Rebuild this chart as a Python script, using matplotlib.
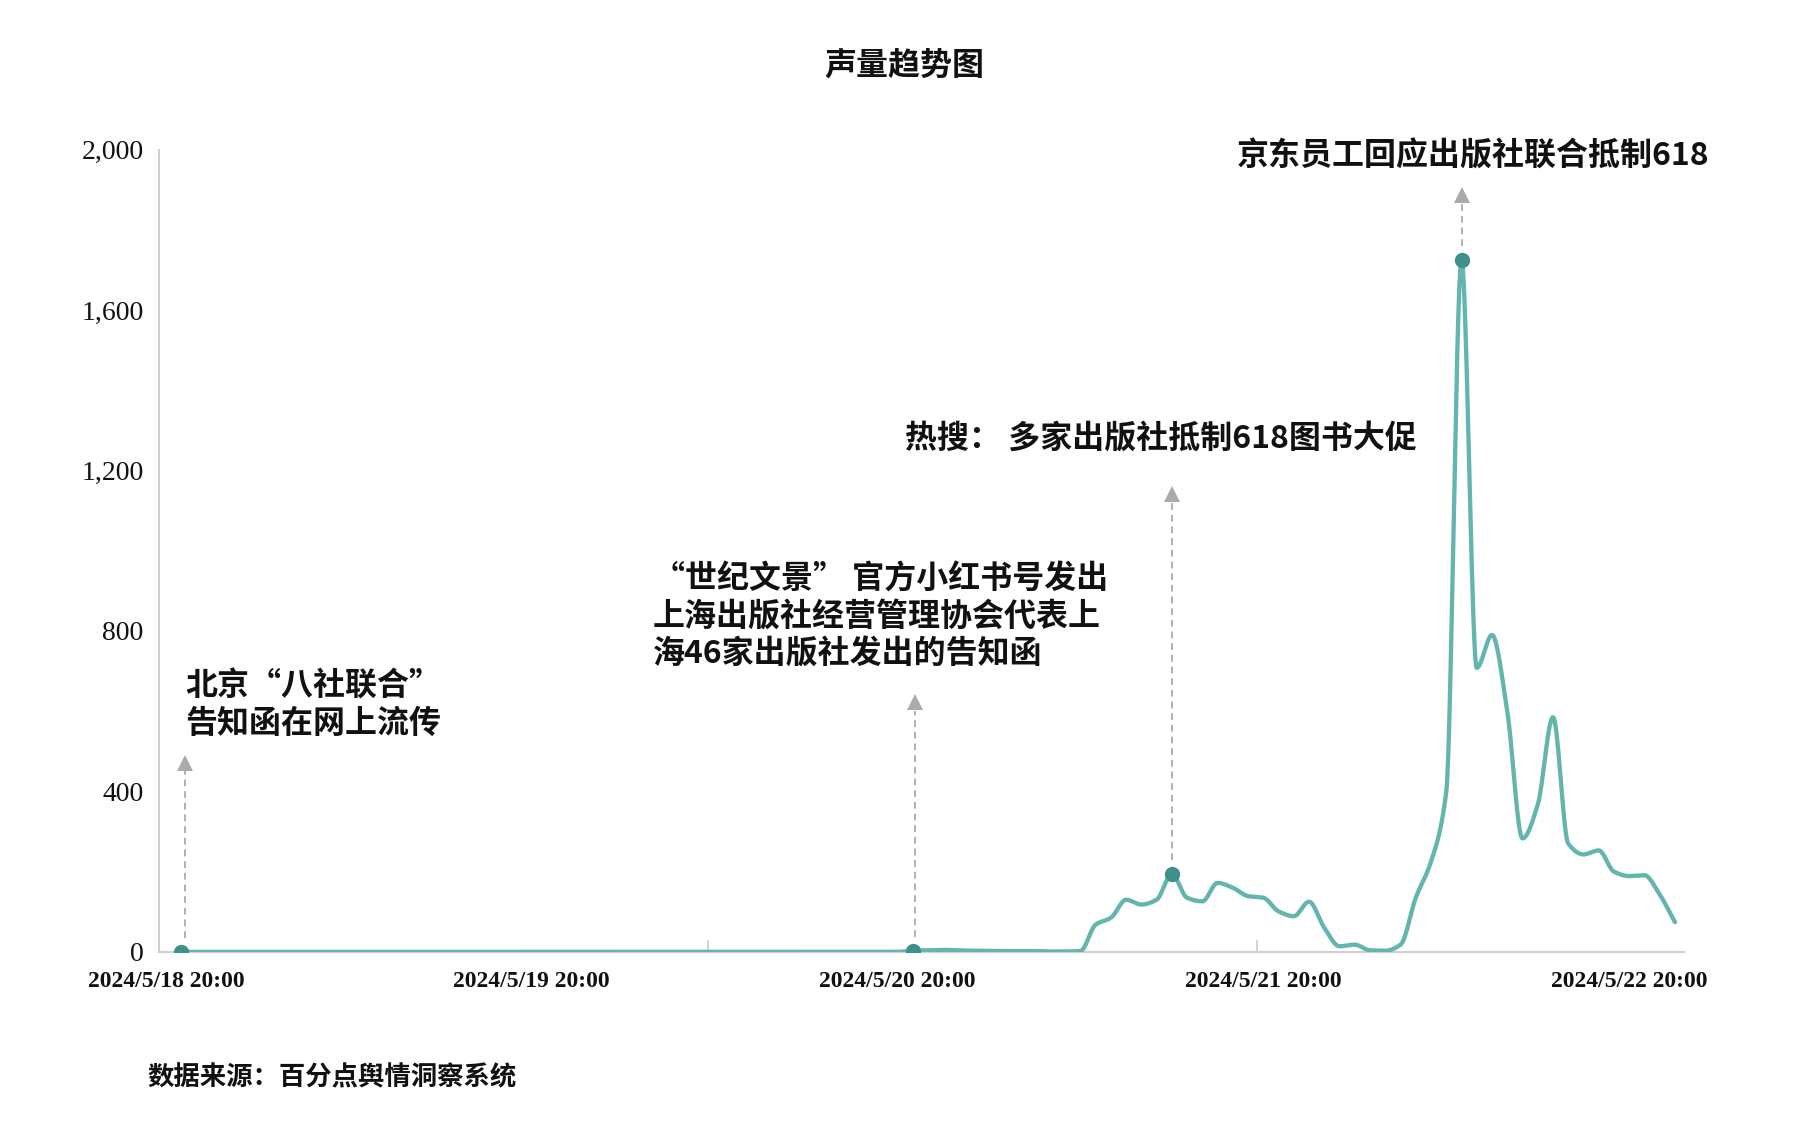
import numpy as np
import matplotlib
matplotlib.use("Agg")
import matplotlib.pyplot as plt
from matplotlib.transforms import ScaledTranslation

plt.rcParams['font.family'] = ['Noto Sans CJK SC', 'DejaVu Sans']

# hourly volume, hour 0 = 2024/5/18 20:00
hours = list(range(99))
volume = [
    0, 0, 0, 0, 0, 0, 0, 0, 0, 0, 0, 0,
    0, 0, 0, 0, 0, 0, 0, 0, 0, 0, 0, 0,
    0, 0, 0, 0, 0, 0, 0, 0, 0, 0, 0, 0,
    0, 0, 0, 0, 0, 0, 0, 0, 0, 0, 0, 0,
    3, 4, 5, 4, 3, 3, 2, 2, 2, 1, 1, 2,
    68, 85, 130, 118, 130, 194, 135, 126, 172, 160, 139, 135,
    101, 89, 125, 60, 14, 18, 4, 3, 18, 135, 225, 400,
    1725, 708, 790, 600, 283, 367, 585, 270, 243, 253, 200, 189,
    191, 143, 74,
]

tick_hours = [0, 24, 48, 72, 96]
tick_labels = ['2024/5/18 20:00', '2024/5/19 20:00', '2024/5/20 20:00',
               '2024/5/21 20:00', '2024/5/22 20:00']
y_ticks = [0, 400, 800, 1200, 1600, 2000]
y_labels = ['0', '400', '800', '1,200', '1,600', '2,000']

event_hours = [0, 48, 65, 84]
event_texts = ['北京“八社联合”\n告知函在网上流传',
               '“世纪文景” 官方小红书号发出\n上海出版社经营管理协会代表上\n海46家出版社发出的告知函',
               '热搜： 多家出版社抵制618图书大促',
               '京东员工回应出版社联合抵制618']
# arrow tips (value units) and text anchor (figure pixels)
arrow_tips = [490, 640, 1160, 1905]
arrow_shift = [0.3, 0.15, 0.0, 0.05]
text_pos = [(185, 705), (653, 617), (905, 439), (1237, 157)]


def pchip(x, y, xs):
    x = np.asarray(x, float)
    y = np.asarray(y, float)
    h = np.diff(x)
    d = np.diff(y) / h
    m = np.zeros_like(y)
    for k in range(1, len(y) - 1):
        if d[k - 1] * d[k] > 0:
            w1 = 2 * h[k] + h[k - 1]
            w2 = h[k] + 2 * h[k - 1]
            m[k] = (w1 + w2) / (w1 / d[k - 1] + w2 / d[k])
    m[0] = d[0]
    m[-1] = d[-1]
    idx = np.clip(np.searchsorted(x, xs) - 1, 0, len(x) - 2)
    t = (xs - x[idx]) / h[idx]
    h00 = 2 * t**3 - 3 * t**2 + 1
    h10 = t**3 - 2 * t**2 + t
    h01 = -2 * t**3 + 3 * t**2
    h11 = t**3 - t**2
    return h00 * y[idx] + h10 * h[idx] * m[idx] + h01 * y[idx + 1] + h11 * h[idx] * m[idx + 1]


W, H = 1818, 1129
fig = plt.figure(figsize=(W / 100, H / 100), dpi=100)
ax = fig.add_axes([158.8 / W, 1 - 951.9 / H, (1683.5 - 158.8) / W, (951.9 - 149.6) / H])

xs = np.linspace(hours[0], hours[-1], 3000)
ax.plot(xs, pchip(hours, volume, xs), color='#63b5ae', lw=3.1, solid_capstyle='round', zorder=3)

for eh, tip, sh in zip(event_hours, arrow_tips, arrow_shift):
    v = volume[hours.index(eh)]
    ax.plot([eh], [v], 'o', color='#3e918b', ms=10, zorder=4)
    ax.plot([eh + sh, eh + sh], [v + 35, tip - 40], color='#b0b0b0', lw=1.4, ls=(0, (3.5, 2.5)), zorder=2)
    ax.plot([eh + sh], [tip - 18], marker='^', color='#ababab', ms=12, mew=0, zorder=2)

for (px, py), txt in zip(text_pos, event_texts):
    fig.text(px / W, 1 - py / H, txt, fontsize=23, color='#111111', ha='left', va='center',
             linespacing=1.22, fontweight='bold')

ax.set_xlim(-1.445, 98.56)
ax.set_ylim(0, 2000)
for s in ['top', 'right']:
    ax.spines[s].set_visible(False)
for s in ['left', 'bottom']:
    ax.spines[s].set_color('#d0d0d0')
    ax.spines[s].set_linewidth(1.5)

ax.set_xticks(tick_hours)
ax.set_xticklabels(tick_labels, fontfamily='Liberation Serif', fontsize=17, fontweight='bold',
                   color='#111111')
ax.tick_params(axis='x', length=0, pad=14)
off = ScaledTranslation(-15 / 100, 0, fig.dpi_scale_trans)
for lab in ax.get_xticklabels():
    lab.set_transform(lab.get_transform() + off)

ax.set_yticks(y_ticks)
ax.set_yticklabels(y_labels, fontfamily='Liberation Serif', fontsize=20, color='#111111')
ax.tick_params(axis='y', length=0, pad=11)

# small inward marks on the time axis
for mx in [-1.445 + 36, -1.445 + 72]:
    ax.plot([mx, mx], [0, 28], color='#d0d0d0', lw=1.3, zorder=1)

fig.text(904 / W, 1 - 66 / H, '声量趋势图', fontsize=23, fontweight='bold', ha='center', va='center', color='#111111')
fig.text(147 / W, 1 - 1078 / H, '数据来源：百分点舆情洞察系统', fontsize=19, fontweight='bold',
         ha='left', va='center', color='#111111')

fig.savefig('out.png', dpi=100)
